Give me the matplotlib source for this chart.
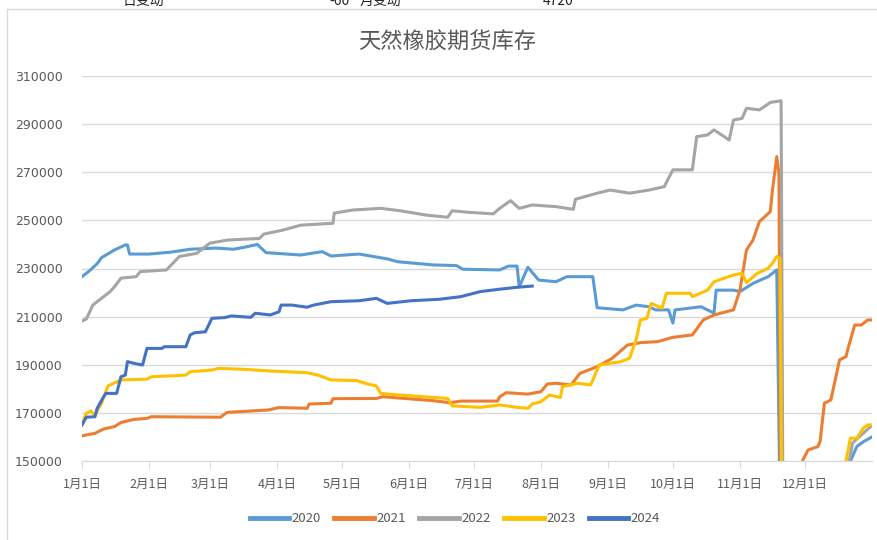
#!/usr/bin/env python3
"""Natural rubber futures inventory, seasonal comparison 2020-2024."""

import matplotlib

matplotlib.use("Agg")
import matplotlib.pyplot as plt  # noqa: E402
from matplotlib.patches import Rectangle  # noqa: E402
import numpy as np  # noqa: E402

plt.rcParams["font.family"] = ["Noto Sans CJK SC", "DejaVu Sans"]

TITLE = "天然橡胶期货库存"
MONTH_DAYS = [0, 31, 59, 90, 120, 151, 181, 212, 243, 273, 304, 334]
MONTH_LABELS = ["1月1日", "2月1日", "3月1日", "4月1日", "5月1日", "6月1日",
                "7月1日", "8月1日", "9月1日", "10月1日", "11月1日", "12月1日"]
Y_TICKS = list(range(150000, 310001, 20000))

# day of year (0 = Jan 1) and inventory in thousand tonnes
d2020 = [0, 3, 7, 9, 15, 20, 21, 22, 31, 41, 50, 62, 70, 76, 81, 85, 101, 111, 115, 128,
         141, 146, 162, 173, 176, 193, 197, 201, 202, 206, 211, 219, 224, 236, 238, 250,
         256, 262, 265, 271, 273, 274, 286, 292, 293, 301, 304, 310, 317, 321, 323, 354,
         355, 358, 361, 365]
v2020 = [226.6, 228.7, 232.0, 234.5, 237.7, 239.8, 239.8, 236.0, 236.0, 236.8, 238.0, 238.5,
         238.0, 239.0, 240.0, 236.6, 235.6, 237.0, 235.2, 236.0, 234.0, 232.8, 231.5, 231.2,
         229.7, 229.4, 231.0, 231.0, 222.4, 230.5, 225.2, 224.5, 226.6, 226.6, 213.7, 212.8,
         214.8, 214.1, 212.8, 212.8, 207.3, 212.8, 214.1, 211.5, 221.0, 221.0, 220.4, 223.8,
         226.6, 229.4, 100.0, 140.0, 150.0, 156.0, 158.0, 160.0]

d2021 = [0, 6, 10, 15, 18, 24, 30, 32, 64, 67, 86, 91, 104, 105, 115, 116, 136, 139, 162,
         170, 175, 192, 193, 196, 206, 212, 215, 219, 226, 230, 238, 245, 252, 258, 266, 273,
         282, 287, 292, 301, 304, 307, 310, 313, 318, 319, 321, 322, 323, 332, 333, 335.5,
         340, 341, 343, 346, 348, 350, 353, 354, 357, 360, 363, 365]
v2021 = [160.5, 161.5, 163.3, 164.3, 166.0, 167.3, 167.7, 168.4, 168.2, 170.2, 171.2, 172.2,
         171.9, 173.7, 174.0, 175.9, 176.0, 176.7, 175.1, 174.2, 174.9, 174.9, 176.7, 178.4,
         177.8, 178.8, 182.0, 182.3, 181.6, 186.4, 189.2, 192.7, 198.2, 199.2, 199.6, 201.4,
         202.4, 208.6, 210.7, 212.8, 221.0, 237.7, 241.8, 249.5, 253.6, 262.6, 276.5, 269.6,
         100.0, 140.0, 150.4, 154.6, 156.0, 158.0, 174.0, 175.4, 183.7, 192.0, 193.4, 197.0,
         206.5, 206.5, 208.6, 208.6]

d2022 = [0, 2, 5, 8, 11, 13, 15, 18, 25, 27, 39, 42, 45, 53, 59, 67, 82, 84, 93, 101, 116,
         116.5, 125, 138, 147, 159, 169, 171, 178, 190, 193, 198, 202, 208, 219, 227, 228,
         238, 244, 253, 262, 269, 273, 282, 284, 289, 292, 299, 301, 305, 307, 313, 318,
         323, 324, 354, 354.5, 356, 361, 364, 365]
v2022 = [208.2, 209.0, 214.8, 216.9, 219.0, 220.4, 222.4, 226.0, 226.6, 228.7, 229.4, 232.2,
         235.0, 236.3, 240.5, 241.8, 242.5, 244.3, 246.0, 248.0, 248.8, 253.0, 254.3, 255.0,
         254.0, 252.2, 251.3, 254.0, 253.4, 252.7, 255.0, 258.2, 255.0, 256.4, 255.7, 254.6,
         258.8, 261.3, 262.6, 261.3, 262.6, 264.0, 271.0, 271.0, 284.8, 285.5, 287.6, 283.4,
         291.7, 292.4, 296.6, 295.9, 299.0, 299.7, 100.0, 140.0, 150.0, 157.5, 161.6, 164.0,
         164.5]

d2023 = [0, 2, 4, 6, 9, 12, 18, 30, 32, 48, 50, 60, 63, 75, 85, 104, 109, 115, 127, 132,
         136, 138, 147, 169, 171, 184, 193, 201, 206, 208, 212, 216, 221, 222, 229, 235, 239,
         249, 253, 256, 258, 261, 263, 268, 270, 281, 282, 289, 292, 301, 305, 307, 312, 317,
         319, 321, 322.5, 323.5, 352.5, 353, 355, 358, 361, 363, 365]
v2023 = [165.7, 169.8, 170.8, 169.1, 174.0, 181.2, 183.7, 184.0, 185.0, 185.7, 187.1, 187.8,
         188.5, 188.1, 187.5, 186.7, 185.7, 183.7, 183.4, 182.0, 181.2, 178.1, 177.4, 176.0,
         172.9, 172.3, 173.3, 172.3, 171.9, 173.7, 174.6, 177.4, 176.4, 180.9, 182.3, 181.6,
         189.9, 191.3, 192.7, 200.3, 208.6, 209.3, 215.5, 213.5, 219.7, 219.7, 218.3, 221.0,
         224.5, 227.3, 228.0, 224.1, 228.0, 230.1, 232.2, 235.0, 234.2, 100.0, 140.0, 150.0,
         159.5, 159.5, 163.7, 165.0, 165.0]

d2024 = [0, 2, 6, 7, 10, 11, 16, 18, 20, 21, 24, 28, 30, 37, 38, 48, 50, 52, 57, 60, 66, 69,
         78, 80, 87, 91, 92, 97, 104, 107, 115, 128, 136, 141, 152, 165, 175, 184, 193, 201,
         208]
v2024 = [165.0, 168.2, 168.4, 171.9, 176.7, 178.1, 178.1, 185.0, 185.7, 191.3, 190.6, 189.9,
         196.8, 196.8, 197.5, 197.5, 202.4, 203.3, 203.7, 209.3, 209.6, 210.3, 209.7, 211.4,
         210.7, 212.0, 214.8, 214.8, 213.9, 214.8, 216.2, 216.6, 217.6, 215.5, 216.6, 217.2,
         218.3, 220.4, 221.4, 222.2, 222.7]

SERIES = [
    ("2020", d2020, v2020, "#5B9BD5"),
    ("2021", d2021, v2021, "#ED7D31"),
    ("2022", d2022, v2022, "#A5A5A5"),
    ("2023", d2023, v2023, "#FFC000"),
    ("2024", d2024, v2024, "#4472C4"),
]

W, H = 877, 540
fig = plt.figure(figsize=(W / 100, H / 100), dpi=100)
ax = fig.add_axes((82 / W, 1 - 461 / H, (872 - 82) / W, (461 - 76) / H))

# chart-area border and the spreadsheet row cut off above it
fig.patches.append(Rectangle((7 / W, -0.1), 1.1, 1 - 9 / H + 0.1, transform=fig.transFigure,
                             fill=False, edgecolor="#D9D9D9", linewidth=1.0))
top_y = 1 - 1 / H
fig.text(123 / W, top_y, "日变动", fontsize=10, color="#222222", va="center")
fig.text(350 / W, top_y, "-60", fontsize=10, color="#222222", va="center", ha="right")
fig.text(360 / W, top_y, "月变动", fontsize=10, color="#222222", va="center")
fig.text(543 / W, top_y, "4720", fontsize=10, color="#222222", va="center")

for name, days, values, color in SERIES:
    ax.plot(days, np.array(values) * 1000, color=color, linewidth=2.2, label=name,
            solid_joinstyle="round")

ax.set_xlim(0, 365)
ax.set_ylim(150000, 310000)
ax.set_yticks(Y_TICKS)
ax.set_yticklabels([str(v) for v in Y_TICKS], fontsize=9, color="#595959",
                   family="DejaVu Sans")
ax.set_xticks(MONTH_DAYS)
ax.set_xticklabels(MONTH_LABELS, fontsize=9, color="#595959")
ax.tick_params(axis="y", length=0, pad=14)
ax.tick_params(axis="x", length=5, color="#D9D9D9", pad=7)
ax.grid(axis="y", color="#D9D9D9", linewidth=1.0)
ax.set_axisbelow(True)
for side in ("top", "right", "left"):
    ax.spines[side].set_visible(False)
ax.spines["bottom"].set_color("#D9D9D9")

fig.text(447 / W, 1 - 42 / H, TITLE, fontsize=16, color="#595959", ha="center", va="center")
leg = fig.legend(loc="center", bbox_to_anchor=(455 / W, 1 - 519 / H), ncols=5, frameon=False,
                 fontsize=9.5, handlelength=3.0, columnspacing=1.0, handletextpad=0.2)
for text in leg.get_texts():
    text.set_color("#595959")
for line in leg.get_lines():
    line.set_linewidth(3.5)

fig.savefig("out.png", dpi=100)
